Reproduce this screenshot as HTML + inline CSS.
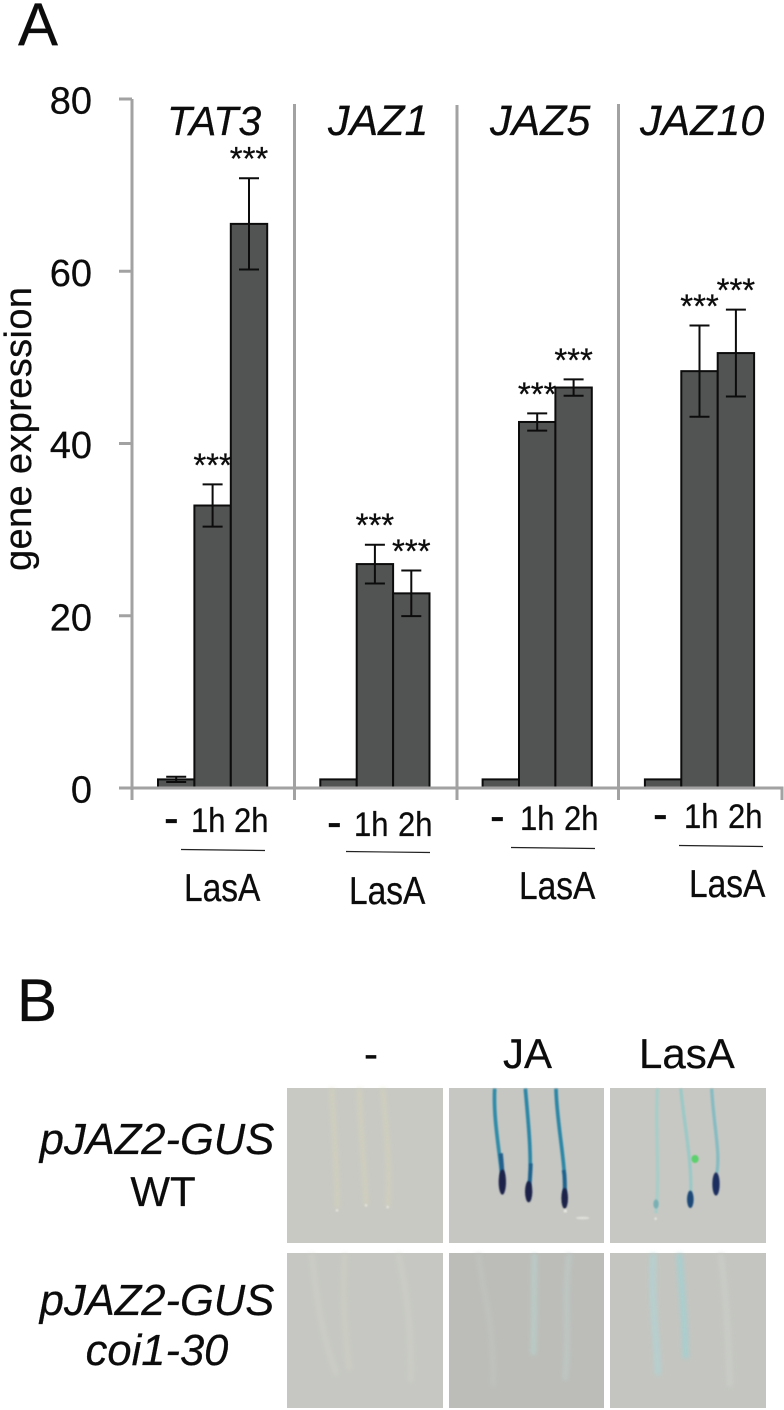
<!DOCTYPE html>
<html lang="en">
<head>
<meta charset="utf-8">
<title>Gene expression and GUS staining figure</title>
<style>
html,body{margin:0;padding:0;background:#fff;width:784px;height:1410px;overflow:hidden}
svg{display:block}
text{font-family:"Liberation Sans",sans-serif;fill:#0c0c0c;stroke:#0c0c0c;stroke-width:0.25px}
.it{font-style:italic}
</style>
</head>
<body>
<svg id="figure" width="784" height="1410" viewBox="0 0 784 1410" xmlns="http://www.w3.org/2000/svg">
  <defs>
    <filter id="b1" x="-100%" y="-10%" width="300%" height="120%"><feGaussianBlur stdDeviation="2.500"/></filter>
    <filter id="b2" x="-100%" y="-10%" width="300%" height="120%"><feGaussianBlur stdDeviation="6"/></filter>
  </defs>
  <rect width="784" height="1410" fill="#fff"/>

  <text x="18" y="45" font-size="60">A</text>
  <text x="17" y="1021" font-size="60">B</text>

  <text transform="translate(31,429) rotate(-90)" text-anchor="middle" font-size="38" textLength="284">gene expression</text>

  <g id="bars"></g>

  <g id="axes" fill="none" stroke="#a2a2a2" stroke-width="3">
    <path d="M132 99V800"/>
    <path d="M119 788H782V800"/>
    <path d="M294.500 104V800"/>
    <path d="M457 105V800"/>
    <path d="M618.500 104V800"/>
  </g>
  <g id="yticks"></g>
  <g id="marks"></g>

  <g>
    <text x="167" y="135" font-size="41" class="it">TAT3</text>
    <text x="328" y="135" font-size="43" class="it">JAZ1</text>
    <text x="490" y="135" font-size="43" class="it">JAZ5</text>
    <text x="640" y="135" font-size="43" class="it">JAZ10</text>
  </g>

  <!-- x labels -->
  <g>
    <g transform="translate(0,832) scale(1,1.12)" font-size="31">
      <text x="164" y="2" font-size="44">-</text>
      <text x="191" y="0">1h</text>
      <text x="234" y="0">2h</text>
    </g>
    <path d="M181 849.500L265 850.500" stroke="#222" stroke-width="1.200"/>
    <text transform="translate(184,901) scale(1,1.15)" font-size="33.500">LasA</text>
  </g>
  <g>
    <g transform="translate(0,836) scale(1,1.12)" font-size="31">
      <text x="327" y="2" font-size="44">-</text>
      <text x="354" y="0">1h</text>
      <text x="398" y="0">2h</text>
    </g>
    <path d="M346 851.500L430 852.500" stroke="#222" stroke-width="1.200"/>
    <text transform="translate(349,904) scale(1,1.15)" font-size="33.500">LasA</text>
  </g>
  <g>
    <g transform="translate(0,830) scale(1,1.12)" font-size="31">
      <text x="490" y="2" font-size="44">-</text>
      <text x="520" y="0">1h</text>
      <text x="564" y="0">2h</text>
    </g>
    <path d="M511 847.500L595 848.500" stroke="#222" stroke-width="1.200"/>
    <text transform="translate(519,899) scale(1,1.15)" font-size="33.500">LasA</text>
  </g>
  <g>
    <g transform="translate(0,828) scale(1,1.12)" font-size="31">
      <text x="653" y="2" font-size="44">-</text>
      <text x="684" y="0">1h</text>
      <text x="728" y="0">2h</text>
    </g>
    <path d="M679 845.500L763 846.500" stroke="#222" stroke-width="1.200"/>
    <text transform="translate(689,897) scale(1,1.15)" font-size="33.500">LasA</text>
  </g>

  <!-- Panel B headers -->
  <g font-size="42">
    <text x="364" y="1068">-</text>
    <text x="503" y="1068">JA</text>
    <text x="639" y="1068">LasA</text>
  </g>
  <g font-size="43.500" text-anchor="middle">
    <text x="157" y="1154" class="it">pJAZ2-GUS</text>
    <text x="163" y="1206" font-size="42">WT</text>
    <text x="157" y="1315" class="it">pJAZ2-GUS</text>
    <text x="157" y="1365" font-size="43.500" class="it">coi1-30</text>
  </g>

  <!-- Photo panels -->
  <g>
    <rect x="287" y="1088" width="156" height="155" fill="#c8c9c3"/>
    <rect x="449" y="1088" width="155" height="155" fill="#c6c7c2"/>
    <rect x="610" y="1088" width="156" height="155" fill="#c7c8c3"/>
    <rect x="287" y="1253" width="156" height="155" fill="#c6c7c2"/>
    <rect x="449" y="1253" width="155" height="155" fill="#bcbdb9"/>
    <rect x="610" y="1253" width="156" height="155" fill="#c4c5c0"/>
  </g>

  <g transform="translate(280,1030) scale(0.33333)" fill="none" stroke-linecap="butt">
    <g filter="url(#b2)" stroke="#d4d2ba" stroke-width="13" opacity="0.7">
      <path d="M155 176C160 280 170 400 172 535"/>
      <path d="M238 176C240 300 255 420 258 525"/>
      <path d="M308 176C320 300 330 420 324 530"/>
    </g>
    <g filter="url(#b1)">
      <circle cx="171" cy="541" r="4" fill="#e2e2dc"/>
      <circle cx="258" cy="526" r="4" fill="#e2e2dc"/>
      <circle cx="323" cy="531" r="4" fill="#e2e2dc"/>
    </g>
    <g filter="url(#b1)" stroke-width="11">
      <path d="M644 176C640 260 655 340 666 440" stroke="#2e8ba8"/>
      <path d="M736 176C745 280 756 380 748 470" stroke="#2a86a6"/>
      <path d="M828 176C830 280 858 400 854 490" stroke="#2a86a6"/>
      <path d="M662 370C664 390 666 410 667 440" stroke="#205f8c" stroke-width="13"/>
      <path d="M752 400C752 420 750 440 748 470" stroke="#1f628e" stroke-width="12"/>
      <path d="M851 420C855 440 855 460 854 490" stroke="#1f628e" stroke-width="12"/>
    </g>
    <g filter="url(#b1)">
      <ellipse cx="667" cy="456" rx="11" ry="38" fill="#1a2048"/>
      <ellipse cx="746" cy="485" rx="11" ry="32" fill="#1a2048"/>
      <ellipse cx="854" cy="505" rx="10" ry="31" fill="#1a2048"/>
      <ellipse cx="908" cy="564" rx="20" ry="4" fill="#dedfd9"/>
      <circle cx="856" cy="543" r="5" fill="#e6e7e2"/>
    </g>
    <g filter="url(#b1)" stroke-width="10">
      <path d="M1132 176C1124 300 1140 420 1128 550" stroke="#a8cdc8"/>
      <path d="M1202 176C1215 300 1236 400 1232 490" stroke="#9cc9c6"/>
      <path d="M1295 176C1300 280 1322 370 1310 430" stroke="#86bcc2"/>
    </g>
    <g filter="url(#b1)">
      <ellipse cx="1128" cy="522" rx="8" ry="14" fill="#79b0b4"/>
      <ellipse cx="1231" cy="508" rx="10" ry="26" fill="#1c4a78"/>
      <ellipse cx="1308" cy="462" rx="11" ry="35" fill="#1c2f60"/>
      <ellipse cx="1245" cy="387" rx="11" ry="12" fill="#5cd06c"/>
      <circle cx="1127" cy="566" r="4" fill="#e2e2dc"/>
    </g>
    <g filter="url(#b2)" stroke="#cfd1c8" stroke-width="16" opacity="0.55">
      <path d="M95 672C110 800 120 900 170 1035"/>
      <path d="M195 672C185 800 195 900 208 1020" stroke="#d0d1c4"/>
      <path d="M355 672C385 800 395 930 392 1055"/>
    </g>
    <g filter="url(#b2)" stroke-width="16" opacity="0.7">
      <path d="M595 672C610 800 640 850 640 1070" stroke="#c1c4c0"/>
      <path d="M763 672C762 800 762 880 760 975" stroke="#b9d2ce"/>
      <path d="M868 672C850 800 870 900 855 1050" stroke="#bfccc8"/>
    </g>
    <g filter="url(#b2)" stroke-width="18" opacity="0.85">
      <path d="M1120 672C1112 800 1130 920 1134 1035" stroke="#b2d3d3"/>
      <path d="M1198 672C1205 780 1216 880 1217 985" stroke="#a2d0d2"/>
      <path d="M1322 672C1340 800 1345 930 1350 1070" stroke="#cacdc7"/>
    </g>
  </g>

<script>
var genes = ["TAT3", "JAZ1", "JAZ5", "JAZ10"];
var timepoints = ["control", "1h", "2h"];
var tat3Means = [1, 32.8, 65.5];
var jaz1Means = [1, 26, 22.6];
var jaz5Means = [1, 42.5, 46.5];
var jaz10Means = [1, 48.4, 50.5];
var tat3Errors = [0.3, 2.45, 5.3];
var jaz1Errors = [0, 2.25, 2.65];
var jaz5Errors = [0, 1, 0.95];
var jaz10Errors = [0, 5.3, 5.05];
var stars = ["", "***", "***"];
var yTickValues = [0, 20, 40, 60, 80];

var allMeans = [tat3Means, jaz1Means, jaz5Means, jaz10Means];
var allErrors = [tat3Errors, jaz1Errors, jaz5Errors, jaz10Errors];
var NS = "http://www.w3.org/2000/svg";

function yScale(v) { return 788 - v * (689 / 80); }
function groupX(g) { return 158 + g * 162.3; }
function barX(g, t) { return groupX(g) + t * 36.4; }

var barsLayer = document.getElementById("bars");
var marksLayer = document.getElementById("marks");
var ticksLayer = document.getElementById("yticks");

yTickValues.forEach(function (v) {
  var line = document.createElementNS(NS, "line");
  line.setAttribute("x1", 119);
  line.setAttribute("x2", 132);
  line.setAttribute("y1", yScale(v));
  line.setAttribute("y2", yScale(v));
  line.setAttribute("stroke", "#a2a2a2");
  line.setAttribute("stroke-width", 3);
  
  
  ticksLayer.appendChild(line);
  var label = document.createElementNS(NS, "text");
  label.setAttribute("x", 92);
  label.setAttribute("y", yScale(v) + 14.5);
  label.setAttribute("text-anchor", "end");
  label.setAttribute("font-size", 38);
  label.textContent = String(v);
  
  
  ticksLayer.appendChild(label);
});

genes.forEach(function (gene, g) {
  timepoints.forEach(function (time, t) {
    var value = allMeans[g][t];
    var err = allErrors[g][t];
    var x = barX(g, t);
    var top = yScale(value);
    var cx = x + 18.2;

    var bar = document.createElementNS(NS, "rect");
    bar.setAttribute("x", x);
    bar.setAttribute("y", top);
    bar.setAttribute("width", 36.4);
    bar.setAttribute("height", 788 - top);
    bar.setAttribute("fill", "#525453");
    bar.setAttribute("stroke", "#0c0c0c");
    bar.setAttribute("stroke-width", 2);
    
    
    barsLayer.appendChild(bar);

    if (err > 0) {
      var eTop = yScale(value + err);
      var eBot = yScale(value - err);
      var path = document.createElementNS(NS, "path");
      path.setAttribute("d", "M" + (cx - 10) + " " + eTop + "H" + (cx + 10) + "M" + cx + " " + eTop + "V" + eBot + "M" + (cx - 10) + " " + eBot + "H" + (cx + 10));
      path.setAttribute("fill", "none");
      path.setAttribute("stroke", "#0c0c0c");
      path.setAttribute("stroke-width", 2);
      
      
      marksLayer.appendChild(path);
    }

    if (stars[t]) {
      var star = document.createElementNS(NS, "text");
      star.setAttribute("x", cx);
      star.setAttribute("y", yScale(value + err) - 8);
      star.setAttribute("text-anchor", "middle");
      star.setAttribute("font-size", 33);
      star.textContent = stars[t];
      
      
      marksLayer.appendChild(star);
    }
  });
});
</script>
</svg>
</body>
</html>
